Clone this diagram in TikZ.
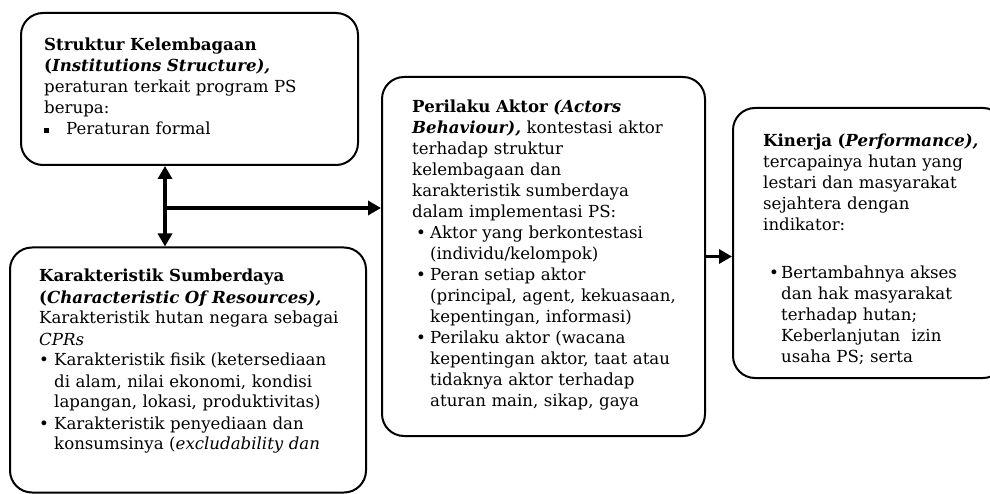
\documentclass[tikz,border=0pt]{standalone}
\usepackage{fontspec}
\setmainfont{DejaVu Serif}
\usetikzlibrary{arrows.meta, positioning}
\tikzset{
	panel/.style={rectangle, rounded corners=22pt, draw=black, line width=2pt, inner sep=0pt},
	body/.style={anchor=base west, inner sep=0pt, align=left, text width=#1, font=\fontsize{16.6}{21}\selectfont},
	body/.default=320pt,
	link/.style={-{Triangle[length=13pt, width=14pt]}, line width=3.5pt},
	dlink/.style={{Triangle[length=13pt, width=14pt]}-{Triangle[length=13pt, width=14pt]}, line width=3.5pt},
}
\newcommand{\itm}[2]{\hspace*{#1}\makebox[#2][l]{\textbullet}}
\newcommand{\sqitm}{\makebox[22pt][l]{\raisebox{0.2ex}{\rule{0.3em}{0.3em}}}}

\begin{document}
\begin{tikzpicture}[x=1pt, y=-1pt]
	\useasboundingbox (0,0) rectangle (990,494);
	\clip (0,0) rectangle (990,494);
	% boxes
	\node[panel, minimum width=337pt, minimum height=152pt] (inst) at (189.5,89) {};
	\node[panel, minimum width=356pt, minimum height=245pt] (res) at (188,370) {};
	\node[panel, minimum width=323pt, minimum height=359pt] (act) at (543.5,256.5) {};
	\node[panel, minimum width=272pt, minimum height=270pt] (perf) at (869,243) {};
	% texts
	\node[body] (instT) at (44,51) {\textbf{Struktur Kelembagaan}\\
		\textbf{(\textit{Institutions Structure),}}\\
		peraturan terkait program PS\\
		berupa:\\
		\sqitm Peraturan formal};
	\node[body=330pt] (resT) at (39,282) {\textbf{Karakteristik Sumberdaya}\\
		\textbf{(\textit{Characteristic Of Resources),}}\\
		Karakteristik hutan negara sebagai\\
		\textit{CPRs}\\
		\itm{0pt}{15pt}Karakteristik fisik (ketersediaan\\
		\hspace*{15pt}di alam, nilai ekonomi, kondisi\\
		\hspace*{15pt}lapangan, lokasi, produktivitas)\\
		\itm{0pt}{15pt}Karakteristik penyediaan dan\\
		\hspace*{15pt}konsumsinya (\textit{excludability dan}};
	\node[body=290pt] (actT) at (412,113) {\textbf{Perilaku Aktor \textit{(Actors}}\\
		\textbf{\textit{Behaviour),}} kontestasi aktor\\
		terhadap struktur\\
		kelembagaan dan\\
		karakteristik sumberdaya\\
		dalam implementasi PS:\\
		\itm{4pt}{14pt}Aktor yang berkontestasi\\
		\hspace*{18pt}(individu/kelompok)\\
		\itm{4pt}{14pt}Peran setiap aktor\\
		\hspace*{18pt}(principal, agent, kekuasaan,\\
		\hspace*{18pt}kepentingan, informasi)\\
		\itm{4pt}{14pt}Perilaku aktor (wacana\\
		\hspace*{18pt}kepentingan aktor, taat atau\\
		\hspace*{18pt}tidaknya aktor terhadap\\
		\hspace*{18pt}aturan main, sikap, gaya};
	\node[body=225pt] (perfT) at (763,147) {\textbf{Kinerja (\textit{Performance),}}\\
		tercapainya hutan yang\\
		lestari dan masyarakat\\
		sejahtera dengan\\
		indikator:\\[27pt]
		\itm{6pt}{12pt}Bertambahnya akses\\
		\hspace*{18pt}dan hak masyarakat\\
		\hspace*{18pt}terhadap hutan;\\
		\hspace*{18pt}Keberlanjutan\ \ izin\\
		\hspace*{18pt}usaha PS; serta};
	% connectors
	\coordinate (j) at (165,208);
	\draw[dlink] (inst.south -| j) -- (res.north -| j);
	\draw[link] (j) -- (j -| act.west);
	\draw[link] (act.east) -- (act.east -| perf.west);
\end{tikzpicture}
\end{document}
